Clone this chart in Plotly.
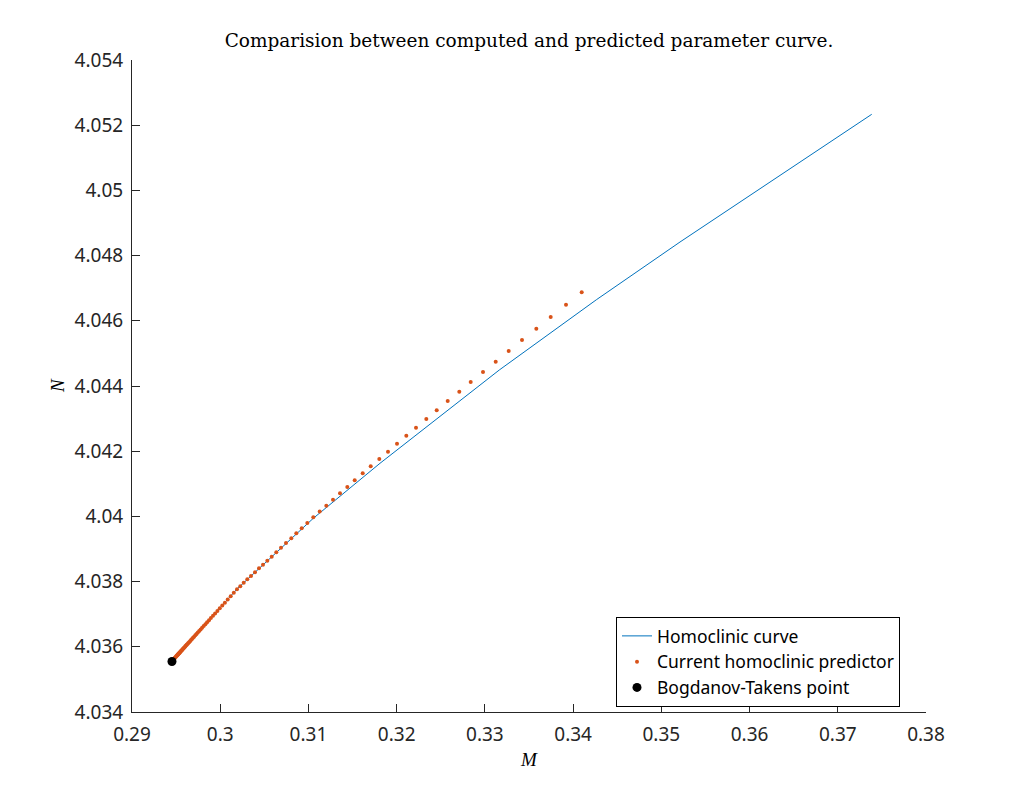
import plotly.graph_objects as go

# Homoclinic curve (computed)
curve_M = [0.29453, 0.301868, 0.310551, 0.318112, 0.331635, 0.342675, 0.352117, 0.365947, 0.373847]
curve_N = [4.03555, 4.037764, 4.039942, 4.041629, 4.044491, 4.046653, 4.048417, 4.050917, 4.052334]

# Current homoclinic predictor (dots)
pred_M = [
    0.340975, 0.339195, 0.337461, 0.335829, 0.334208, 0.332700, 0.331227, 0.329787, 0.328393, 0.327100,
    0.325785, 0.324539, 0.323360, 0.322192, 0.321093, 0.320039, 0.319018, 0.318032, 0.317057, 0.316151,
    0.315244, 0.314405, 0.313577, 0.312784, 0.312025, 0.311276, 0.310551, 0.309871, 0.309236, 0.308624,
    0.308057, 0.307456, 0.306890, 0.306357, 0.305835, 0.305337, 0.304849, 0.304396, 0.303942, 0.303489,
    0.303070, 0.302662, 0.302276, 0.301902,
    0.301539, 0.301188, 0.300848, 0.300530, 0.300236, 0.299952, 0.299680, 0.299419, 0.299181, 0.298943,
    0.298728, 0.298513, 0.298320, 0.298127, 0.297946, 0.297776, 0.297617, 0.297458, 0.297311, 0.297175,
    0.297039, 0.296914, 0.296801, 0.296688, 0.296574, 0.296472, 0.296382, 0.296291, 0.296200, 0.296121,
    0.296042, 0.295962, 0.295894, 0.295826, 0.295758, 0.295702, 0.295645, 0.295588, 0.295531, 0.295486,
    0.295441, 0.295395, 0.295350, 0.295305, 0.295271, 0.295237, 0.295203, 0.295169, 0.295135, 0.295101,
    0.295044, 0.294987, 0.294931, 0.294874, 0.294817, 0.294761, 0.294704, 0.294647,
]
pred_N = [
    4.046874, 4.046494, 4.046117, 4.045758, 4.045411, 4.045074, 4.044745, 4.044430, 4.044123, 4.043825,
    4.043540, 4.043255, 4.042988, 4.042721, 4.042475, 4.042230, 4.041985, 4.041761, 4.041537, 4.041322,
    4.041107, 4.040902, 4.040709, 4.040512, 4.040328, 4.040150, 4.039972, 4.039798, 4.039635, 4.039482,
    4.039328, 4.039184, 4.039040, 4.038899, 4.038764, 4.038641, 4.038518, 4.038408, 4.038285, 4.038172,
    4.038071, 4.037966, 4.037856, 4.037764,
    4.037655, 4.037550, 4.037448, 4.037354, 4.037266, 4.037181, 4.037100, 4.037022, 4.036951, 4.036880,
    4.036816, 4.036751, 4.036694, 4.036636, 4.036582, 4.036532, 4.036484, 4.036437, 4.036393, 4.036352,
    4.036312, 4.036274, 4.036241, 4.036207, 4.036173, 4.036142, 4.036115, 4.036088, 4.036061, 4.036038,
    4.036014, 4.035990, 4.035970, 4.035950, 4.035929, 4.035912, 4.035896, 4.035879, 4.035862, 4.035848,
    4.035835, 4.035821, 4.035808, 4.035794, 4.035784, 4.035774, 4.035764, 4.035753, 4.035743, 4.035733,
    4.035716, 4.035699, 4.035682, 4.035665, 4.035649, 4.035632, 4.035615, 4.035598,
]

# Bogdanov-Takens point
bt_M = [0.29453]
bt_N = [4.03555]

x_tickvals = [0.29, 0.30, 0.31, 0.32, 0.33, 0.34, 0.35, 0.36, 0.37, 0.38]
x_ticktext = ["0.29", "0.3", "0.31", "0.32", "0.33", "0.34", "0.35", "0.36", "0.37", "0.38"]
y_tickvals = [4.034, 4.036, 4.038, 4.040, 4.042, 4.044, 4.046, 4.048, 4.050, 4.052, 4.054]
y_ticktext = ["4.034", "4.036", "4.038", "4.04", "4.042", "4.044", "4.046", "4.048", "4.05", "4.052", "4.054"]

AX = "#262626"
TICKFONT = dict(family="Noto Sans", size=19, color=AX)

fig = go.Figure()
fig.add_trace(go.Scatter(x=curve_M, y=curve_N, mode="lines", name="Homoclinic curve",
                         line=dict(color="#0072BD", width=1)))
fig.add_trace(go.Scatter(x=pred_M, y=pred_N, mode="markers", name="Current homoclinic predictor",
                         marker=dict(color="#D95319", size=4, line=dict(width=0))))
fig.add_trace(go.Scatter(x=bt_M, y=bt_N, mode="markers", name="Bogdanov-Takens point",
                         marker=dict(color="black", size=9, line=dict(width=0))))

fig.update_layout(
    width=1024, height=800,
    margin=dict(l=132, r=98, t=60, b=88),
    paper_bgcolor="white", plot_bgcolor="white",
    title=dict(text="Comparision between computed and predicted parameter curve.",
               font=dict(family="DejaVu Serif", size=18.5, color="black"),
               x=0.5, xref="paper", xanchor="center",
               y=1 - 41 / 800, yref="container", yanchor="middle"),
    xaxis=dict(range=[0.29, 0.38], tickvals=x_tickvals, ticktext=x_ticktext,
               ticks="inside", ticklen=8, tickwidth=1, tickcolor=AX,
               showline=True, linecolor=AX, linewidth=1, mirror=False,
               showgrid=False, zeroline=False, tickfont=TICKFONT,
               ticklabelstandoff=5),
    yaxis=dict(range=[4.034, 4.054], tickvals=y_tickvals, ticktext=y_ticktext,
               ticks="inside", ticklen=8, tickwidth=1, tickcolor=AX,
               showline=True, linecolor=AX, linewidth=1, mirror=False,
               showgrid=False, zeroline=False, tickfont=TICKFONT,
               ticklabelstandoff=4),
    legend=dict(x=(616 - 132) / 794, y=(712 - 617) / 652, xanchor="left", yanchor="top",
                bgcolor="white", bordercolor="black", borderwidth=1,
                font=dict(family="Noto Sans", size=17.5, color="black")),
    annotations=[
        dict(text="<i>M</i>", xref="paper", yref="paper", x=0.5, y=-(759 - 712) / 652,
             xanchor="center", yanchor="middle", showarrow=False,
             font=dict(family="Liberation Serif", size=19, color="black")),
        dict(text="<i>N</i>", xref="paper", yref="paper", x=-(132 - 57) / 794, y=(712 - 386) / 652,
             xanchor="center", yanchor="middle", showarrow=False, textangle=-90,
             font=dict(family="Liberation Serif", size=19, color="black")),
    ],
)

fig.write_html("out.html")
